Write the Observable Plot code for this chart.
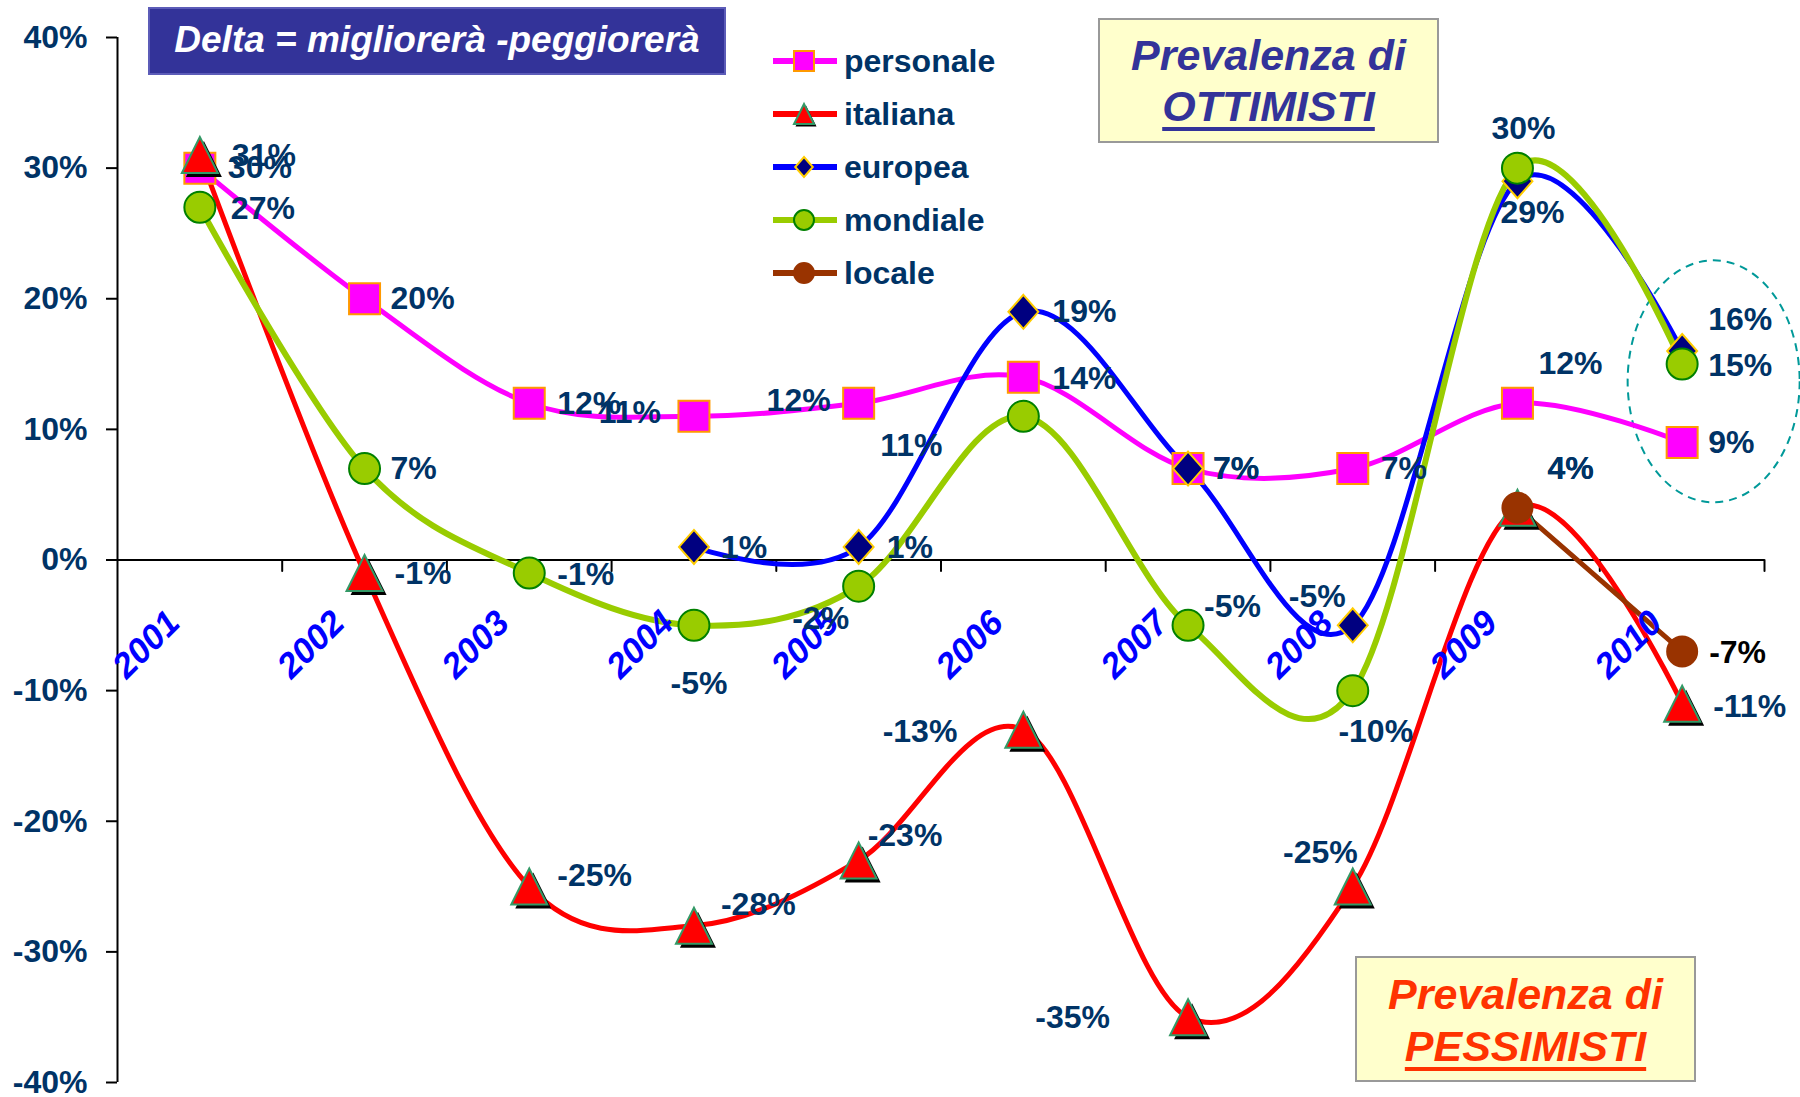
<!DOCTYPE html>
<html>
<head>
<meta charset="utf-8">
<script src="https://cdn.jsdelivr.net/npm/d3@7"></script>
<script src="https://cdn.jsdelivr.net/npm/@observablehq/plot@0.6"></script>
<style>
  html, body { margin: 0; padding: 0; background: #ffffff; }
  #chart { position: relative; width: 1800px; height: 1097px; font-family: "Liberation Sans", Arial, sans-serif; }
  #chart > svg { position: absolute; left: 0; top: 0; }
  .box { position: absolute; box-sizing: border-box; text-align: center; font-weight: bold; font-style: italic; }
  #delta { left: 148px; top: 7px; width: 578px; height: 68px; background: #333399; border: 2px solid #5c5cb8;
           color: #ffffff; font-size: 37px; line-height: 62px; }
  #ottimisti { left: 1098px; top: 18px; width: 341px; height: 125px; background: #ffffcc; border: 2px solid #999999;
               color: #333399; font-size: 43px; line-height: 51px; padding-top: 10px; }
  #pessimisti { left: 1355px; top: 956px; width: 341px; height: 126px; background: #ffffcc; border: 2px solid #999999;
                color: #ff3300; font-size: 43px; line-height: 52px; padding-top: 10px; }
  .box u { text-decoration-thickness: 4px; text-underline-offset: 6px; }
  #legend { position: absolute; left: 0; top: 0; }
</style>
</head>
<body>
<div id="chart"></div>
<script>
// Anno di riferimento
const years = ["2001", "2002", "2003", "2004", "2005", "2006", "2007", "2008", "2009", "2010"];

// Delta = migliorerà - peggiorerà, per ambito della situazione
const personale = [0.30, 0.20, 0.12, 0.11, 0.12, 0.14, 0.07, 0.07, 0.12, 0.09];
const italiana  = [0.31, -0.01, -0.25, -0.28, -0.23, -0.13, -0.35, -0.25, 0.04, -0.11];
const europea   = [null, null, null, 0.01, 0.01, 0.19, 0.07, -0.05, 0.29, 0.16];
const mondiale  = [0.27, 0.07, -0.01, -0.05, -0.02, 0.11, -0.05, -0.10, 0.30, 0.15];
const locale    = [null, null, null, null, null, null, null, null, 0.04, -0.07];

const yTicks = [-0.4, -0.3, -0.2, -0.1, 0, 0.1, 0.2, 0.3, 0.4];

// Marker shapes (r = half size of the shape)
const sym = {
  square:   {draw(c, size) { const r = Math.sqrt(size / Math.PI); c.rect(-r, -r, 2 * r, 2 * r); }},
  circle:   {draw(c, size) { const r = Math.sqrt(size / Math.PI); c.moveTo(r, 0); c.arc(0, 0, r, 0, 2 * Math.PI); }},
  triangle: {draw(c, size) { const r = Math.sqrt(size / Math.PI); c.moveTo(0, -r); c.lineTo(r, r); c.lineTo(-r, r); c.closePath(); }},
  diamond:  {draw(c, size) { const r = Math.sqrt(size / Math.PI); c.moveTo(0, -r); c.lineTo(0.88 * r, 0); c.lineTo(0, r); c.lineTo(-0.88 * r, 0); c.closePath(); }}
};

const series = [
  {name: "personale", values: personale, line: "#ff00ff", width: 5, curve: "cardinal", symbol: sym.square, fill: "#ff00ff", stroke: "#ff9900", r: 15.5},
  {name: "italiana",  values: italiana,  line: "#ff0000", width: 5, curve: "cardinal", symbol: sym.triangle, fill: "#ff0000", stroke: "#339966", r: 18, shadow: true},
  {name: "europea",   values: europea,   line: "#0000ff", width: 5, curve: "cardinal", symbol: sym.diamond, fill: "#000080", stroke: "#ffcc00", r: 17},
  {name: "mondiale",  values: mondiale,  line: "#99cc00", width: 6, curve: "cardinal", symbol: sym.circle, fill: "#99cc00", stroke: "#008000", r: 15.5},
  {name: "locale",    values: locale,    line: "#993300", width: 5, curve: "linear", symbol: sym.circle, fill: "#993300", stroke: "#993300", r: 15}
];

// Label placement per point: [textAnchor, dx, dy, colour?]
const labelPlacement = {
  personale: [["start", 28, 0], ["start", 26, 0], ["start", 28, 0], ["end", -33, -4], ["end", -28, -3],
              ["start", 29, 2], ["start", 25, 0], ["start", 28, 0], ["start", 21, -40], ["start", 26, 0]],
  italiana:  [["start", 32, 1], ["start", 30, 1], ["start", 28, -11], ["start", 27, -21], ["start", 9, -25],
              ["end", -66, 2], ["end", -78, 1], ["end", 5, -34], ["start", 30, -39], ["start", 31, 3]],
  europea:   [null, null, null, ["start", 27, 1], ["start", 28, 1],
              ["start", 29, 0], ["start", 25, 0], ["end", -7, -29], ["middle", 15, 32], ["start", 26, -31]],
  mondiale:  [["start", 31, 1], ["start", 26, 0], ["start", 28, 2], ["middle", 5, 58], ["middle", -38, 33],
              ["middle", -112, 29], ["start", 16, -19], ["middle", 23, 41], ["middle", 6, -39], ["start", 26, 2]],
  locale:    [null, null, null, null, null, null, null, null, ["start", 30, -39], ["start", 27, 1, "#000000"]]
};

const rows = (values) => values.map((v, i) => ({i, year: years[i], v})).filter((d) => d.v != null);
const pct = (v) => `${Math.round(v * 100)}%`;
const navy = "#003366";
const font = "Liberation Sans, Arial, sans-serif";

// Dashed ring around the 2010 values of the "optimist" series
function ring(index, scales) {
  const last = years.length - 1;
  const cx = scales.x(last + 0.5) + 32;
  const cy = scales.y(d3.mean([personale[last], europea[last], mondiale[last]])) - 4;
  return d3.create("svg:ellipse")
    .attr("cx", cx).attr("cy", cy).attr("rx", 86).attr("ry", 121)
    .attr("fill", "none").attr("stroke", "#009999").attr("stroke-width", 2)
    .attr("stroke-dasharray", "8,6").node();
}

const marks = [
  ring,
  // axes
  Plot.ruleY([0], {stroke: "#000000", strokeWidth: 2}),
  Plot.ruleX([0], {y1: yTicks[0], y2: yTicks[yTicks.length - 1], stroke: "#000000", strokeWidth: 2}),
  Plot.vector(d3.range(1, years.length + 1), {
    x: (d) => d, y: 0, length: 11, rotate: 180, anchor: "start", stroke: "#000000", strokeWidth: 2,
    shape: {draw(c, l) { c.moveTo(0, 0); c.lineTo(0, -l); }}
  }),
  Plot.axisY(yTicks, {
    label: null, tickSize: 11, tickPadding: 19, tickFormat: pct, fontSize: 32, fontWeight: "bold",
    stroke: "#000000", strokeWidth: 2, fill: navy
  })
];

// lines
for (const s of series) {
  marks.push(Plot.line(rows(s.values), {x: (d) => d.i + 0.5, y: "v", stroke: s.line, strokeWidth: s.width, curve: s.curve}));
}
// year labels along the zero line
marks.push(Plot.text(years, {
  x: (d, i) => i + 0.5, y: 0, text: (d) => d, rotate: -45, textAnchor: "end", lineAnchor: "middle",
  dx: -26, dy: 57, fontSize: 35, fontWeight: "bold", fontStyle: "italic", fill: "#0000ff"
}));
// markers
for (const s of series) {
  if (s.shadow) {
    marks.push(Plot.dot(rows(s.values), {x: (d) => d.i + 0.5, y: "v", symbol: s.symbol, r: s.r, fill: "#000000", dx: 4, dy: 4}));
  }
  marks.push(Plot.dot(rows(s.values), {x: (d) => d.i + 0.5, y: "v", symbol: s.symbol, r: s.r, fill: s.fill, stroke: s.stroke, strokeWidth: 2}));
}
// value labels
for (const s of series) {
  rows(s.values).forEach((d) => {
    const p = labelPlacement[s.name][d.i];
    if (!p) return;
    marks.push(Plot.text([d], {
      x: (e) => e.i + 0.5, y: "v", text: (e) => pct(e.v), textAnchor: p[0], lineAnchor: "middle",
      dx: p[1], dy: p[2], fontSize: 32, fontWeight: "bold", fill: p[3] || navy
    }));
  });
}

const chart = Plot.plot({
  width: 1800,
  height: 1097,
  marginLeft: 117,
  marginRight: 36,
  marginTop: 37,
  marginBottom: 15,
  x: {domain: [0, years.length], axis: null},
  y: {domain: [yTicks[0], yTicks[yTicks.length - 1]], axis: null},
  style: {fontFamily: font, background: "#ffffff", overflow: "visible"},
  marks
});

const root = document.getElementById("chart");
root.appendChild(chart);

// Legend
const legendRows = [61, 114, 167, 220, 273];
const legend = d3.select(root).append("svg").attr("id", "legend").attr("width", 1000).attr("height", 320);
series.forEach((s, k) => {
  const g = legend.append("g").attr("transform", `translate(0,${legendRows[k]})`);
  g.append("line").attr("x1", 773).attr("x2", 837).attr("y1", 0).attr("y2", 0)
    .attr("stroke", s.line).attr("stroke-width", 6);
  if (s.shadow) {
    g.append("path").attr("transform", "translate(806,2)")
      .attr("d", d3.symbol(s.symbol, Math.PI * 10.5 * 10.5)()).attr("fill", "#000000");
  }
  g.append("path").attr("transform", "translate(804,0)")
    .attr("d", d3.symbol(s.symbol, Math.PI * 10 * 10)())
    .attr("fill", s.fill).attr("stroke", s.stroke).attr("stroke-width", 2);
  g.append("text").attr("x", 844).attr("y", 0).attr("dy", "0.35em")
    .attr("font-family", font).attr("font-size", 32).attr("font-weight", "bold").attr("fill", navy)
    .text(s.name);
});

// Annotation boxes
const boxes = [
  {id: "delta", html: "Delta = migliorerà -peggiorerà"},
  {id: "ottimisti", html: "Prevalenza di<br><u>OTTIMISTI</u>"},
  {id: "pessimisti", html: "Prevalenza di<br><u>PESSIMISTI</u>"}
];
for (const b of boxes) {
  const div = document.createElement("div");
  div.className = "box";
  div.id = b.id;
  div.innerHTML = b.html;
  root.appendChild(div);
}
</script>
</body>
</html>
